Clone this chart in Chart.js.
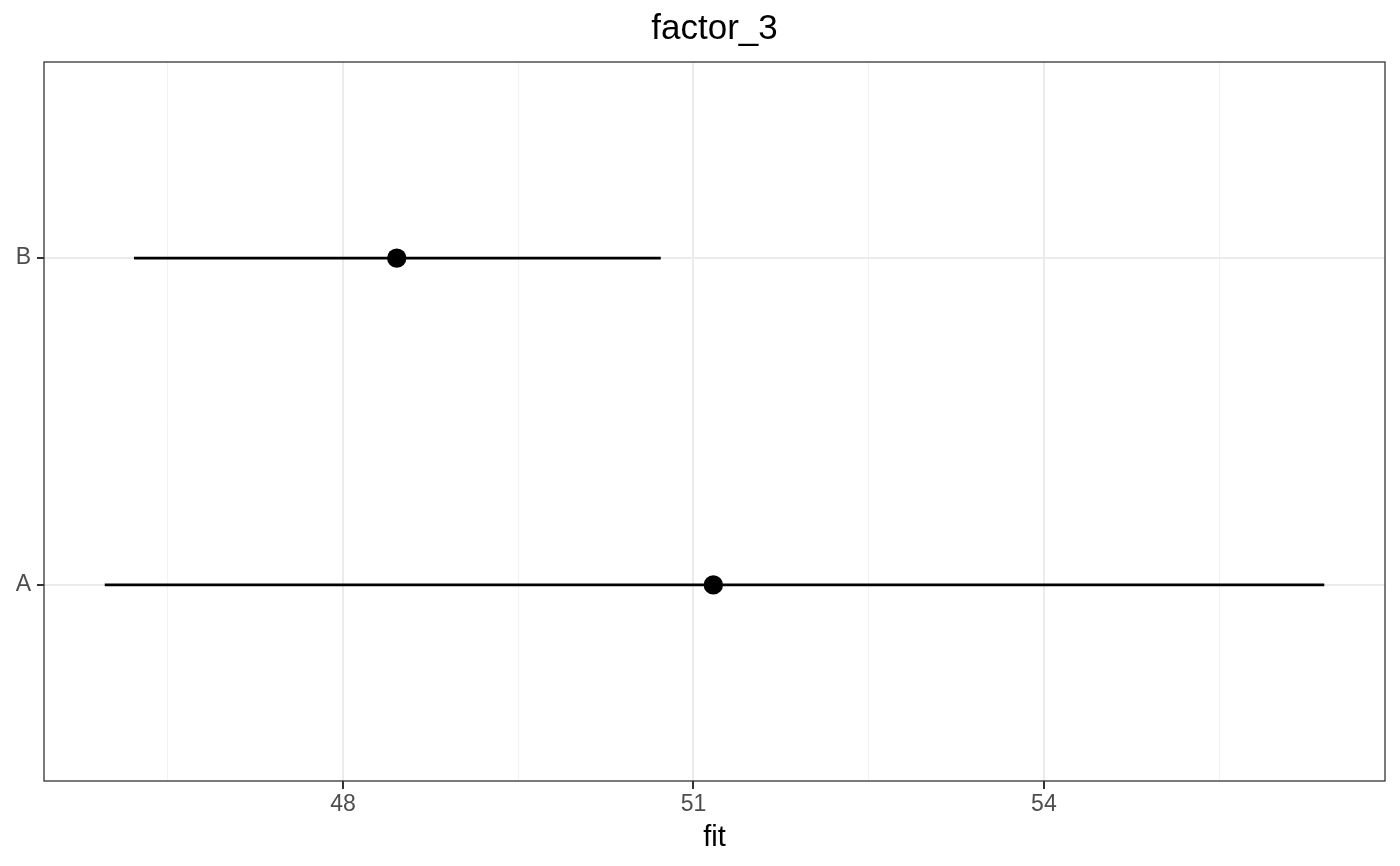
<!DOCTYPE html>
<html>
<head>
<meta charset="utf-8">
<script src="https://cdn.jsdelivr.net/npm/chart.js@4"></script>
<style>
  html, body { margin: 0; padding: 0; background: #fff; }
  #wrap { width: 1400px; height: 866px; }
</style>
</head>
<body>
<div id="wrap"><canvas id="fitChart" width="1400" height="866"></canvas></div>
<script>
// valores
const categories = ['A', 'B'];
const fitValues = [51.17, 48.46];
const lowerValues = [45.96, 46.21];
const upperValues = [56.40, 50.72];
const xMajorTicks = [48, 51, 54];
const xMinorTicks = [46.5, 49.5, 52.5, 55.5];

const xMin = 45.44, xMax = 56.92;
const fontFamily = 'Liberation Sans, Arial, sans-serif';

// cada barra de error es un dataset de dos puntos
const errorSets = categories.map((cat, i) => ({
    type: 'line',
    data: [{ x: lowerValues[i], y: i + 1 }, { x: upperValues[i], y: i + 1 }],
    borderColor: '#000',
    borderWidth: 2.6,
    pointRadius: 0,
    fill: false
}));

const pointSet = {
    type: 'scatter',
    data: categories.map((cat, i) => ({ x: fitValues[i], y: i + 1 })),
    backgroundColor: '#000',
    borderColor: '#000',
    borderWidth: 0,
    pointRadius: 9.7,
    pointHoverRadius: 9.7
};

const panelBorder = {
    id: 'panelBorder',
    afterDraw(chart) {
        const a = chart.chartArea, c = chart.ctx;
        c.save();
        c.strokeStyle = '#333333';
        c.lineWidth = 1.3;
        c.strokeRect(a.left, a.top, a.right - a.left, a.bottom - a.top);
        c.restore();
    }
};

const ctx = document.getElementById('fitChart').getContext('2d');
new Chart(ctx, {
    data: { datasets: [...errorSets, pointSet] },
    options: {
        responsive: false,
        animation: false,
        layout: { padding: { left: 0, right: 15, top: 0, bottom: 0 } },
        plugins: {
            legend: { display: false },
            tooltip: { enabled: false },
            title: {
                display: true,
                fullSize: false, // centrado sobre el panel
                text: 'factor_3',
                color: '#000',
                font: { family: fontFamily, size: 35, weight: 'normal', lineHeight: 1.2 },
                padding: { top: 8, bottom: 12 }
            }
        },
        scales: {
            x: {
                type: 'linear',
                min: xMin,
                max: xMax,
                afterBuildTicks: scale => {
                    scale.ticks = [...xMinorTicks, ...xMajorTicks].sort((a, b) => a - b).map(v => ({ value: v }));
                },
                afterFit: scale => { scale.height = 85; },
                grid: {
                    color: c => xMajorTicks.includes(c.tick.value) ? '#ebebeb' : '#f2f2f2',
                    lineWidth: c => xMajorTicks.includes(c.tick.value) ? 2 : 1,
                    tickColor: c => xMajorTicks.includes(c.tick.value) ? '#333333' : 'rgba(0,0,0,0)',
                    tickLength: 8,
                    tickWidth: 2
                },
                border: { display: false },
                ticks: {
                    autoSkip: false,
                    maxRotation: 0,
                    padding: 2,
                    color: '#4d4d4d',
                    font: { family: fontFamily, size: 23 },
                    callback: v => xMajorTicks.includes(v) ? String(v) : ''
                },
                title: {
                    display: true,
                    text: 'fit',
                    color: '#000',
                    font: { family: fontFamily, size: 29, lineHeight: 1.2 },
                    padding: { top: 2, bottom: 11 }
                }
            },
            y: {
                type: 'linear',
                min: 0.4,
                max: 2.6,
                afterBuildTicks: scale => {
                    scale.ticks = categories.map((c, i) => ({ value: i + 1 }));
                },
                afterFit: scale => { scale.width = 44; },
                grid: {
                    color: '#ebebeb',
                    lineWidth: 2,
                    tickColor: '#333333',
                    tickLength: 7,
                    tickWidth: 2
                },
                border: { display: false },
                ticks: {
                    autoSkip: false,
                    padding: 6,
                    color: '#4d4d4d',
                    font: { family: fontFamily, size: 23 },
                    callback: v => categories[Math.round(v) - 1] || ''
                }
            }
        }
    },
    plugins: [panelBorder]
});
</script>
</body>
</html>
